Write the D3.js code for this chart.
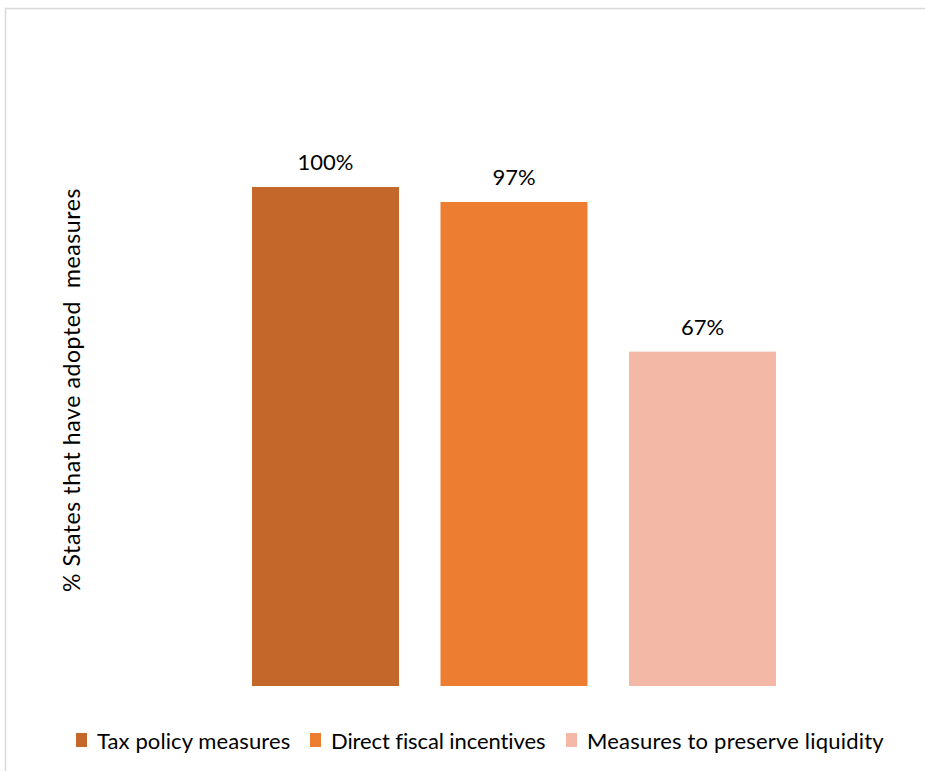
<!DOCTYPE html>
<html><head><meta charset="utf-8">
<script src="https://cdn.jsdelivr.net/npm/d3@7"></script>
<style>html,body{margin:0;padding:0;background:#fff;}svg{display:block;}</style>
</head><body>
<script>
const categories = ["Tax policy measures", "Direct fiscal incentives", "Measures to preserve liquidity"];
const values = [100, 97, 67];
const colors = ["#C4672A", "#ED7D31", "#F4B8A6"];
const yTitle = "% States that have adopted  measures";

const W = 925, H = 771;
const svg = d3.select("body").append("svg").attr("width", W).attr("height", H);
const font = "Lato, Carlito, Calibri, sans-serif";

svg.append("rect").attr("x", 5.5).attr("y", 8.5).attr("width", 960).attr("height", 800)
  .attr("fill", "#fff").attr("stroke", "#d9d9d9").attr("stroke-width", 1.5);

const x = d3.scaleBand().domain(categories).range([252, 776]).paddingInner(0.22).paddingOuter(0);
const y = d3.scaleLinear().domain([0, 100]).range([686, 187]);

svg.selectAll("rect.bar").data(values).join("rect").attr("class", "bar")
  .attr("x", (d, i) => x(categories[i]))
  .attr("y", d => y(d))
  .attr("width", x.bandwidth())
  .attr("height", d => y(0) - y(d))
  .attr("fill", (d, i) => colors[i]);

svg.selectAll("text.lbl").data(values).join("text").attr("class", "lbl")
  .attr("x", (d, i) => x(categories[i]) + x.bandwidth() / 2)
  .attr("y", d => y(d) - 17)
  .attr("text-anchor", "middle")
  .attr("font-family", font).attr("font-size", 22).attr("fill", "#000")
  .text(d => d + "%");

svg.append("text")
  .attr("transform", "translate(80,390) rotate(-90)")
  .attr("text-anchor", "middle")
  .attr("font-family", font).attr("font-size", 23).attr("letter-spacing", 0.6)
  .attr("fill", "#000").style("white-space", "pre")
  .text(yTitle);

// legend
const legX = [76, 310, 566];
const leg = svg.selectAll("g.leg").data(categories).join("g").attr("class", "leg")
  .attr("transform", (d, i) => `translate(${legX[i]},0)`);
leg.append("rect").attr("x", 0).attr("y", 733).attr("width", 11).attr("height", 14)
  .attr("fill", (d, i) => colors[i]);
leg.append("text").attr("x", 21).attr("y", 749)
  .attr("font-family", font).attr("font-size", 22)
  .attr("letter-spacing", (d, i) => [0.1, -0.1, 0.2][i])
  .style("font-variant-ligatures", "none").attr("fill", "#000")
  .text(d => d);
</script>
</body></html>
